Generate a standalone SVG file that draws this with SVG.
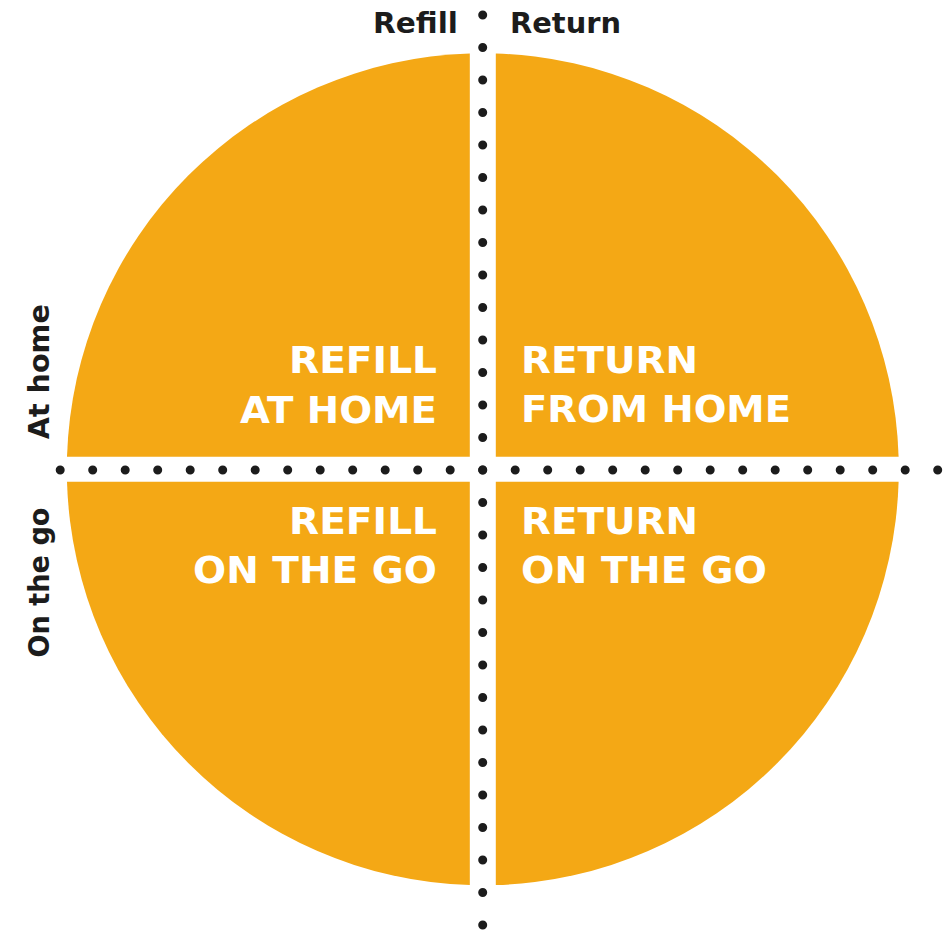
<svg xmlns="http://www.w3.org/2000/svg" width="948" height="933" viewBox="0 0 948 933">
  <style>
    .q { fill: #F4A815; }
    .ql { fill: #ffffff; font-family: "DejaVu Sans", "Liberation Sans", sans-serif; font-weight: bold; font-size: 37px; }
    .ax { fill: #1c1c1c; font-family: "DejaVu Sans", "Liberation Sans", sans-serif; font-weight: bold; font-size: 29px; }
    .dots { stroke: #1c1c1c; stroke-width: 9; stroke-linecap: round; stroke-dasharray: 0 32.5; fill: none; }
  </style>
  <rect width="948" height="933" fill="#ffffff"/>

  <g id="refill-at-home">
    <path class="q" d="M469.8,456.8 L469.8,53.5 A416,416 0 0 0 67,456.8 Z"/>
    <text class="ql" x="437" y="373.3" text-anchor="end" textLength="148" lengthAdjust="spacingAndGlyphs">REFILL</text>
    <text class="ql" x="437" y="422.7" text-anchor="end" textLength="197" lengthAdjust="spacingAndGlyphs">AT HOME</text>
  </g>

  <g id="return-from-home">
    <path class="q" d="M495.8,456.8 L495.8,53.5 A416,416 0 0 1 898.6,456.8 Z"/>
    <text class="ql" x="521" y="373.3" textLength="177" lengthAdjust="spacingAndGlyphs">RETURN</text>
    <text class="ql" x="521" y="421.7" textLength="270" lengthAdjust="spacingAndGlyphs">FROM HOME</text>
  </g>

  <g id="refill-on-the-go">
    <path class="q" d="M469.8,481.8 L469.8,885.1 A416,416 0 0 1 67,481.8 Z"/>
    <text class="ql" x="437" y="534" text-anchor="end" textLength="148" lengthAdjust="spacingAndGlyphs">REFILL</text>
    <text class="ql" x="437" y="582.5" text-anchor="end" textLength="244" lengthAdjust="spacingAndGlyphs">ON THE GO</text>
  </g>

  <g id="return-on-the-go">
    <path class="q" d="M495.8,481.8 L495.8,885.1 A416,416 0 0 0 898.6,481.8 Z"/>
    <text class="ql" x="521" y="534" textLength="177" lengthAdjust="spacingAndGlyphs">RETURN</text>
    <text class="ql" x="521" y="582.5" textLength="246" lengthAdjust="spacingAndGlyphs">ON THE GO</text>
  </g>

  <g id="dividers">
    <line class="dots" x1="482.7" y1="15" x2="482.7" y2="925.1"/>
    <line class="dots" x1="60.2" y1="470" x2="937.8" y2="470"/>
  </g>

  <g id="axis-labels">
    <text class="ax" x="458" y="32.5" text-anchor="end" textLength="85" lengthAdjust="spacingAndGlyphs">Refill</text>
    <text class="ax" x="510" y="32.5" textLength="111" lengthAdjust="spacingAndGlyphs">Return</text>
    <text class="ax" transform="translate(48.5,371.7) rotate(-90)" text-anchor="middle" textLength="135" lengthAdjust="spacingAndGlyphs">At home</text>
    <text class="ax" transform="translate(48.5,582.5) rotate(-90)" text-anchor="middle" textLength="150" lengthAdjust="spacingAndGlyphs">On the go</text>
  </g>
</svg>
